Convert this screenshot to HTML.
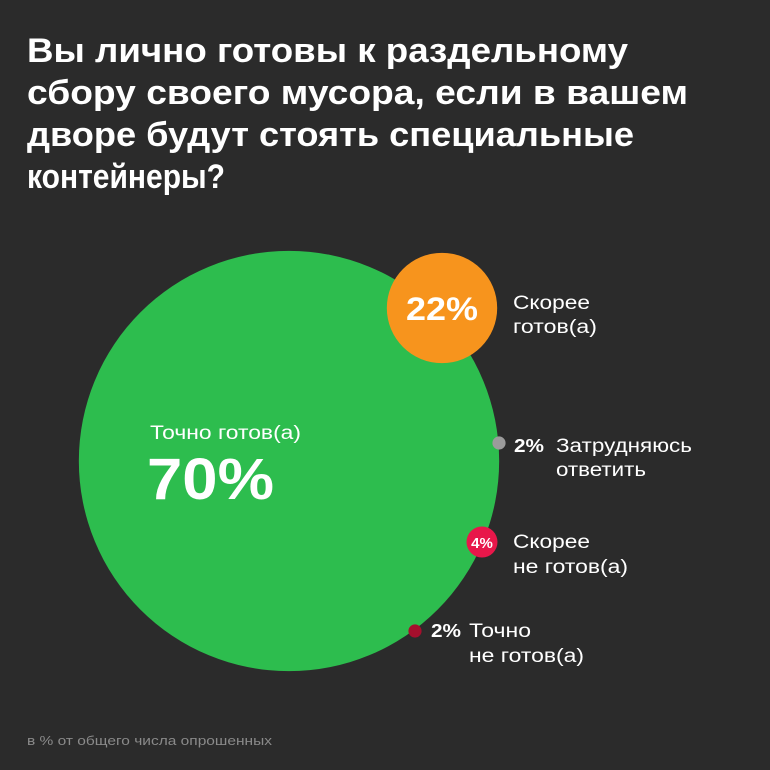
<!DOCTYPE html>
<html><head><meta charset="utf-8"><style>
html,body{margin:0;padding:0;background:#2b2b2b;}
svg{display:block;font-family:"Liberation Sans",sans-serif;}
</style></head><body>
<svg id="chart" width="770" height="770" viewBox="0 0 770 770">
<rect width="770" height="770" fill="#2b2b2b"/>
<g fill="#fff" font-weight="bold" font-size="34">
<text x="27" y="62" textLength="601" lengthAdjust="spacingAndGlyphs">Вы лично готовы к раздельному</text>
<text x="27" y="104" textLength="661" lengthAdjust="spacingAndGlyphs">сбору своего мусора, если в вашем</text>
<text x="27" y="146" textLength="607" lengthAdjust="spacingAndGlyphs">дворе будут стоять специальные</text>
<text x="27" y="188" textLength="198" lengthAdjust="spacingAndGlyphs">контейнеры?</text>
</g>
<g id="bubbles"></g>
<text x="27" y="745" fill="#8a8a8a" font-size="13" textLength="245" lengthAdjust="spacingAndGlyphs">в % от общего числа опрошенных</text>
</svg>
<script>
const categories = ["Точно готов(а)", "Скорее готов(а)", "Затрудняюсь ответить", "Скорее не готов(а)", "Точно не готов(а)"];
const values = [70, 22, 2, 4, 2];
const colors = ["#2dbd4e", "#f7941d", "#9b9b9b", "#e8174a", "#a50f2d"];
const centers = [[289,461],[442,308],[499,443],[482,542],[415,631]];
function rScale(v){ return 1.261*Math.pow(v,1.2)+3.7; }
const g = document.getElementById('bubbles');
const NS = "http://www.w3.org/2000/svg";
function mk(tag, attrs, parent){ const e=document.createElementNS(NS,tag); for(const k in attrs) e.setAttribute(k,attrs[k]); parent.appendChild(e); return e; }
values.forEach((v,i)=>{
  let r = rScale(v);
  if(i===3) r = Math.max(r,15.5);
  const c = mk('circle',{cx:centers[i][0],cy:centers[i][1],r:r,fill:colors[i]},g);
  
  
});
function txt(x,y,s,size,weight,anchor,len){
  const a = {x:x,y:y,fill:'#fff','font-size':size,'font-weight':weight||'bold','text-anchor':anchor||'start'};
  if(len){ a.textLength=len; a.lengthAdjust='spacingAndGlyphs'; }
  const t = mk('text',a,g);
  t.textContent = s;
  
  
  return t;
}
// green
txt(150,439,"Точно готов(а)",19,'normal','start',151);
txt(147,499,values[0]+"%",58,'bold','start',127);
// orange
txt(442,320,values[1]+"%",32,'bold','middle',72);
txt(513,309,"Скорее",19,'normal','start',77); txt(513,333,"готов(а)",19,'normal','start',84);
// gray
txt(514,452,values[2]+"%",18,'bold','start',30);
txt(556,452,"Затрудняюсь",19,'normal','start',136); txt(556,476,"ответить",19,'normal','start',90);
// red
txt(482,548,values[3]+"%",15,'bold','middle');
txt(513,548,"Скорее",19,'normal','start',77); txt(513,573,"не готов(а)",19,'normal','start',115);
// dark red
txt(431,637,values[4]+"%",18,'bold','start',30);
txt(469,637,"Точно",19,'normal','start',62); txt(469,662,"не готов(а)",19,'normal','start',115);
</script>
</body></html>
